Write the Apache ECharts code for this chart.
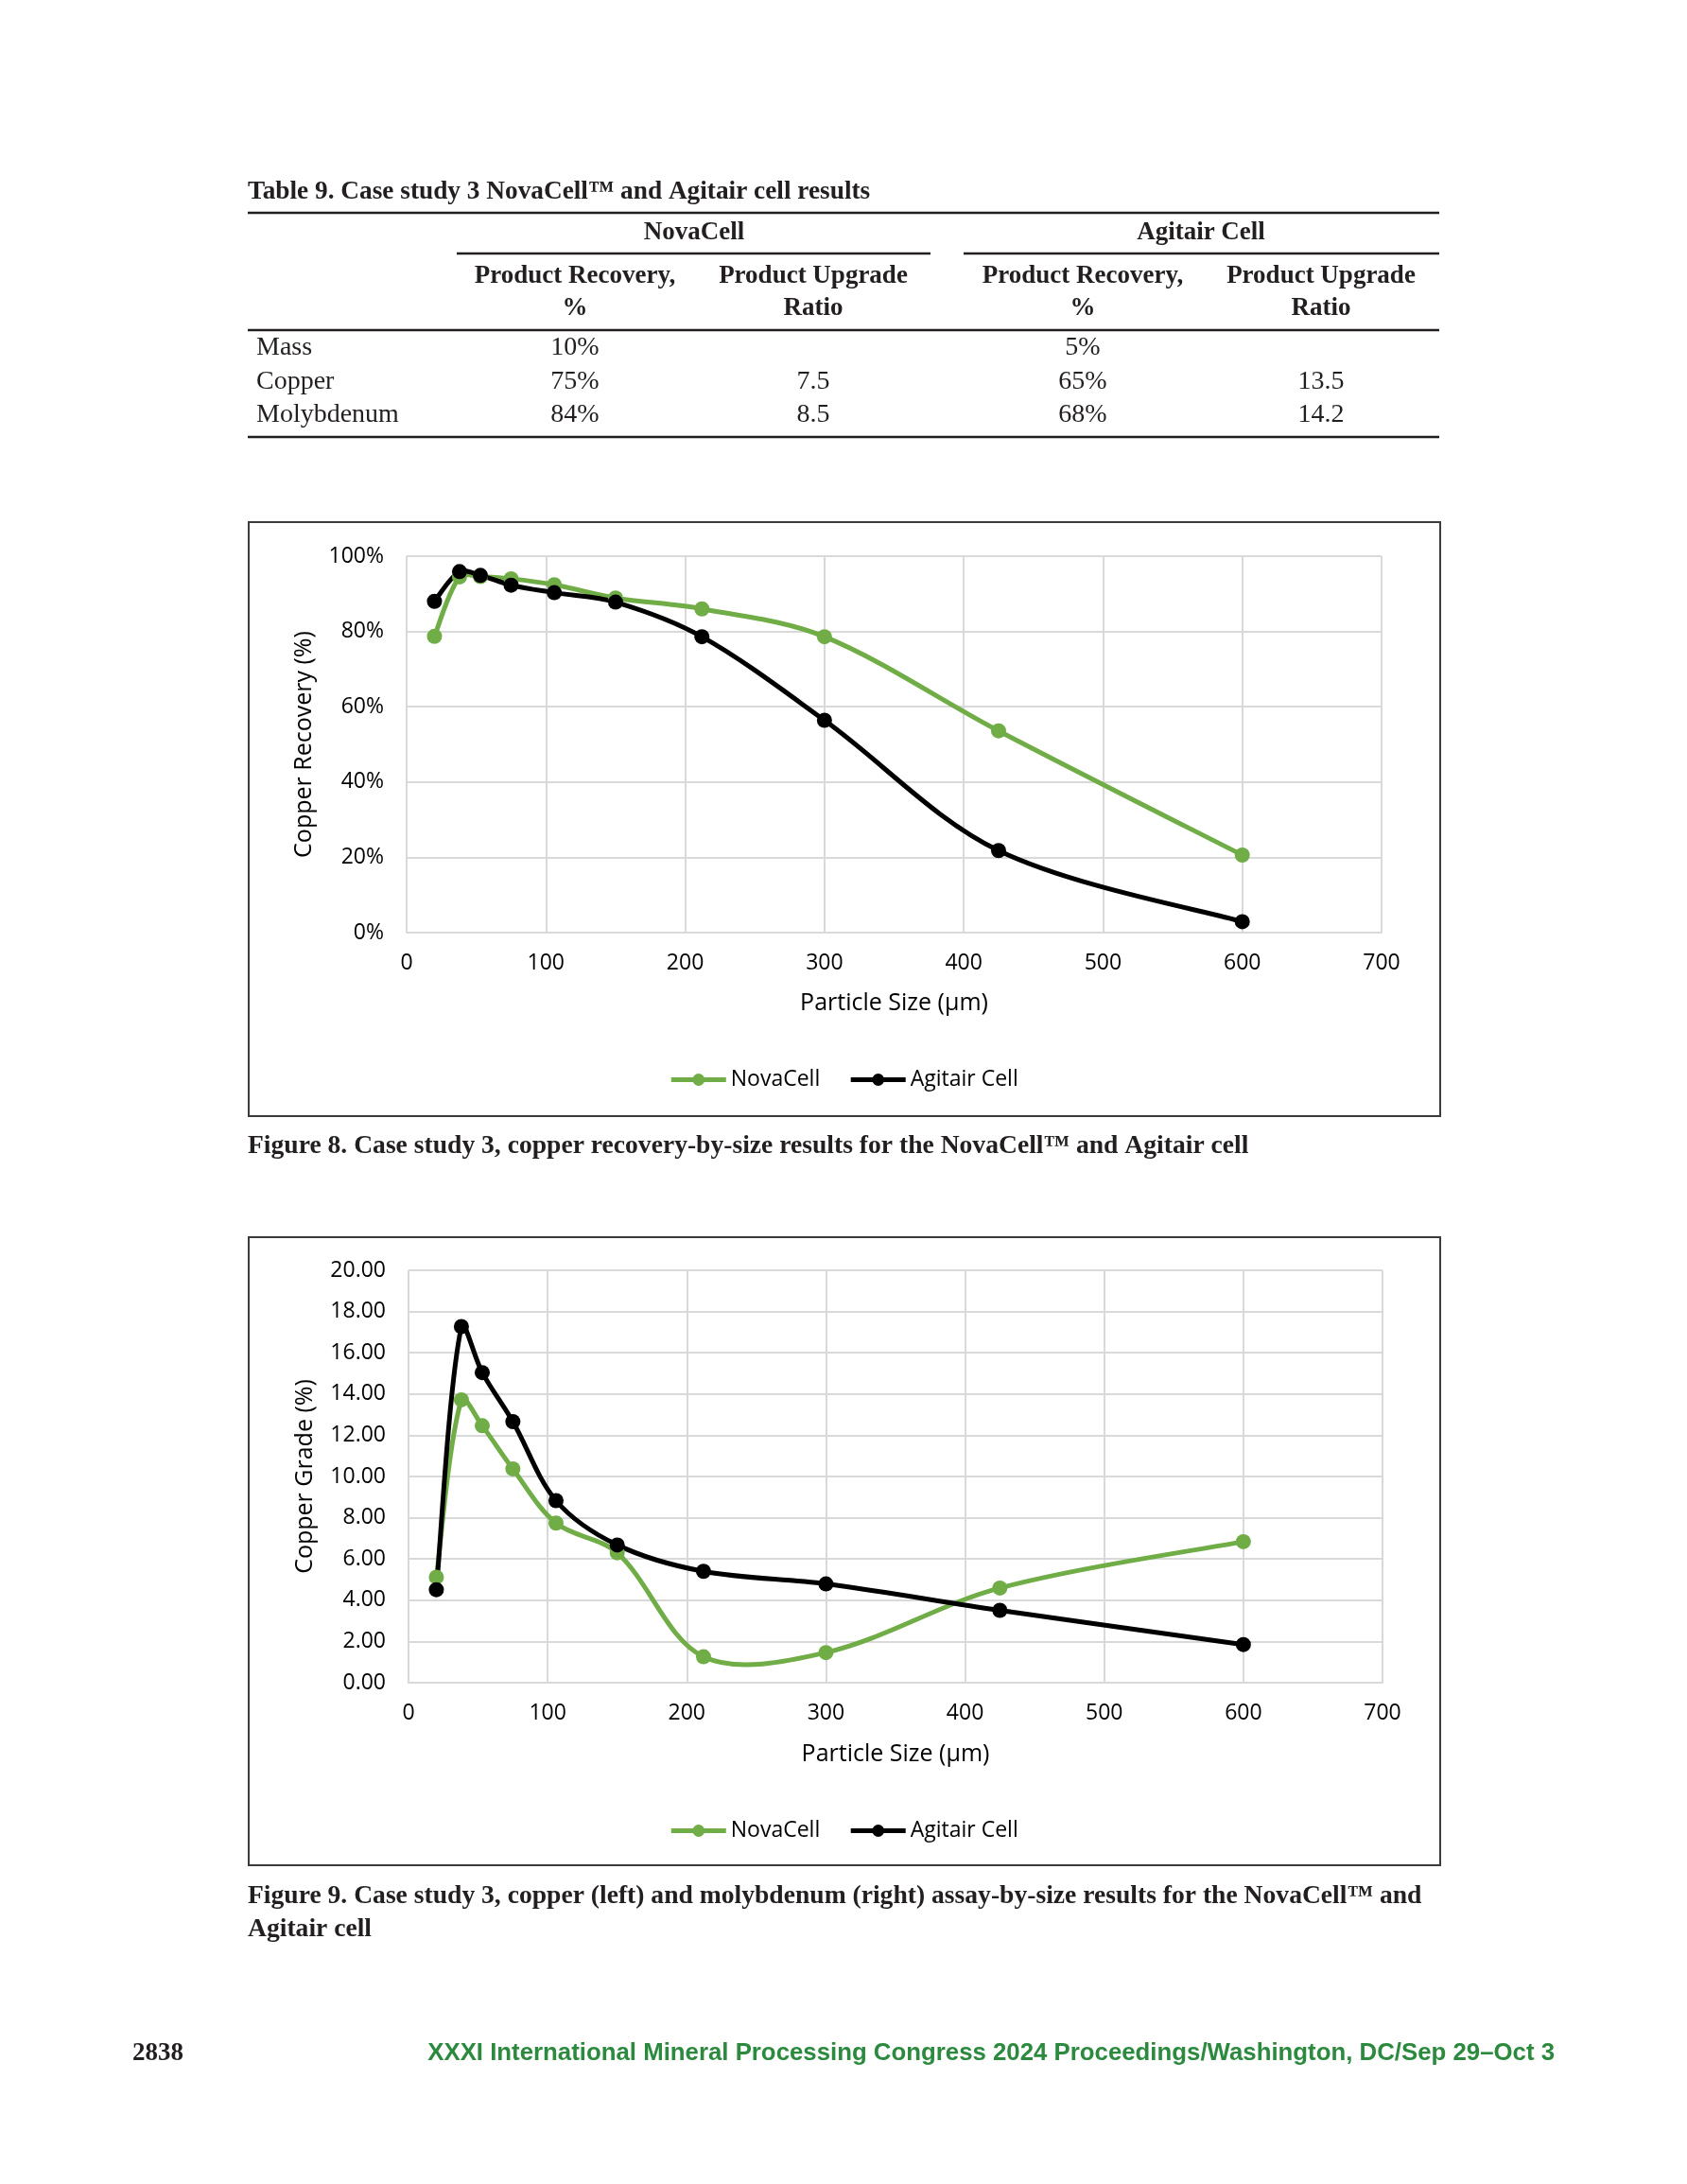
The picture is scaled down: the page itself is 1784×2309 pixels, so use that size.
<!DOCTYPE html>
<html><head><meta charset="utf-8">
<script src="https://cdn.jsdelivr.net/npm/echarts@6/dist/echarts.min.js"></script>
<style>html,body{margin:0;padding:0;background:#fff}#c{width:1784px;height:2309px}</style>
</head><body><div id="c"></div>
<script>
// ---- data ----
const particleSize = [20, 38, 53, 75, 106, 150, 212, 300, 425, 600];
const recoveryNovaCell = [78.7, 94.5, 94.6, 94.0, 92.4, 88.9, 86.0, 78.6, 53.6, 20.6];
const recoveryAgitair  = [88.0, 95.9, 94.9, 92.3, 90.3, 87.8, 78.6, 56.4, 21.8, 2.9];
const gradeNovaCell = [5.12, 13.72, 12.46, 10.37, 7.74, 6.30, 1.26, 1.46, 4.59, 6.84];
const gradeAgitair  = [4.51, 17.27, 15.04, 12.66, 8.83, 6.68, 5.40, 4.79, 3.51, 1.85];
const seriesNames = ['NovaCell', 'Agitair Cell'];
const tableRows = ['Mass', 'Copper', 'Molybdenum'];
const tableNovaRecovery = ['10%', '75%', '84%'];
const tableNovaUpgrade = ['', '7.5', '8.5'];
const tableAgitRecovery = ['5%', '65%', '68%'];
const tableAgitUpgrade = ['', '13.5', '14.2'];

const GREEN = '#70ad47', BLACK = '#000000';
const SANS = "'Open Sans', sans-serif";
const SERIF = "'Liberation Serif', 'DejaVu Serif', serif";
const INK = '#231f20';
const LW = 5, SYM = 16;

const pairs = (xs, ys) => xs.map((x, i) => [x, ys[i]]);

function txt(x, y, text, font, align, color) {
  return { type: 'text', x: x, y: y, silent: true,
    style: { text: text, font: font, fill: color || INK, align: align || 'left', verticalAlign: 'middle' } };
}
function hline(x1, x2, y, w) {
  return { type: 'line', silent: true, shape: { x1: x1, y1: y, x2: x2, y2: y }, style: { stroke: INK, lineWidth: w || 2 } };
}

const BOLD = 'bold 27px ' + SERIF, REG = '28px ' + SERIF;
const graphics = [];
// table
graphics.push(txt(262, 203, 'Table 9. Case study 3 NovaCell™ and Agitair cell results', 'bold 27.3px ' + SERIF));
graphics.push(hline(262, 1522, 225, 2.5));
graphics.push(txt(734, 246, 'NovaCell', BOLD, 'center'));
graphics.push(txt(1270, 246, 'Agitair Cell', BOLD, 'center'));
graphics.push(hline(483, 984, 268, 2.5));
graphics.push(hline(1019, 1522, 268, 2.5));
const colX = [608, 860, 1145, 1397];
const hdr1 = ['Product Recovery,', 'Product Upgrade', 'Product Recovery,', 'Product Upgrade'];
const hdr2 = ['%', 'Ratio', '%', 'Ratio'];
colX.forEach((cx, i) => {
  graphics.push(txt(cx, 292, hdr1[i], BOLD, 'center'));
  graphics.push(txt(cx, 326, hdr2[i], BOLD, 'center'));
});
graphics.push(hline(262, 1522, 349, 2.5));
const rowY = [368, 404, 439];
const cols = [tableNovaRecovery, tableNovaUpgrade, tableAgitRecovery, tableAgitUpgrade];
tableRows.forEach((r, i) => {
  graphics.push(txt(271, rowY[i], r, REG));
  cols.forEach((c, j) => { if (c[i]) graphics.push(txt(colX[j], rowY[i], c[i], REG, 'center')); });
});
graphics.push(hline(262, 1522, 462, 2.5));
// chart frames
graphics.push({ type: 'rect', silent: true, z: -1, shape: { x: 263, y: 552, width: 1260, height: 628 }, style: { fill: 'none', stroke: '#3b3b3b', lineWidth: 2 } });
graphics.push({ type: 'rect', silent: true, z: -1, shape: { x: 263, y: 1308, width: 1260, height: 664 }, style: { fill: 'none', stroke: '#3b3b3b', lineWidth: 2 } });
// captions
const CAP = 'bold 27.6px ' + SERIF;
graphics.push(txt(262, 1212, 'Figure 8. Case study 3, copper recovery-by-size results for the NovaCell™ and Agitair cell', CAP));
graphics.push(txt(262, 2005, 'Figure 9. Case study 3, copper (left) and molybdenum (right) assay-by-size results for the NovaCell™ and', CAP));
graphics.push(txt(262, 2040, 'Agitair cell', CAP));
// footer
graphics.push(txt(140, 2171, '2838', 'bold 27px ' + SERIF));
graphics.push(txt(1644, 2171, 'XXXI International Mineral Processing Congress 2024 Proceedings/Washington, DC/Sep 29–Oct 3', "bold 25.8px 'Liberation Sans', sans-serif", 'right', '#2b8a3e'));

const gridLine = { show: true, lineStyle: { color: '#d9d9d9', width: 2 } };
function xAx(gi, gap) {
  return { type: 'value', gridIndex: gi, min: 0, max: 700, interval: 100,
    name: 'Particle Size (μm)', nameLocation: 'middle', nameGap: gap,
    nameTextStyle: { fontFamily: SANS, fontSize: 25, color: '#000' },
    axisLine: { show: true, lineStyle: { color: '#d9d9d9', width: 2 } }, axisTick: { show: false },
    axisLabel: { fontFamily: SANS, fontSize: 23, color: '#000', margin: 21 },
    splitLine: gridLine };
}
// markers (and legend entries), drawn by the library's line series
function markerSeries(name, xi, data, color) {
  return { name: name, type: 'line', xAxisIndex: xi, yAxisIndex: xi, data: data, z: 3,
    symbol: 'circle', symbolSize: SYM, showSymbol: true,
    lineStyle: { width: LW, color: color, opacity: 0 }, itemStyle: { color: color }, emphasis: { disabled: true } };
}
// Excel-style smoothed line (cardinal spline with segment-length weighting) through the data points, positioned by api.coord
function curveSeries(xi, data, color) {
  return { type: 'custom', xAxisIndex: xi, yAxisIndex: xi, data: data, z: 2, silent: true,
    renderItem: function (params, api) {
      if (params.dataIndex !== 0) return null;
      const p = data.map(d => api.coord(d));
      const n = p.length;
      const dist = (a, b) => Math.hypot(b[0] - a[0], b[1] - a[1]);
      let d = 'M' + p[0][0] + ' ' + p[0][1];
      for (let i = 0; i < n - 1; i++) {
        const p0 = p[Math.max(i - 1, 0)], p1 = p[i], p2 = p[i + 1], p3 = p[Math.min(i + 2, n - 1)];
        const d01 = dist(p0, p1), d12 = dist(p1, p2), d23 = dist(p2, p3);
        const k1 = i === 0 ? 1 / 6 : (d12 / (d01 + d12)) / 3;
        const k2 = i === n - 2 ? 1 / 6 : (d12 / (d12 + d23)) / 3;
        const c1x = p1[0] + (p2[0] - p0[0]) * k1, c1y = p1[1] + (p2[1] - p0[1]) * k1;
        const c2x = p2[0] - (p3[0] - p1[0]) * k2, c2y = p2[1] - (p3[1] - p1[1]) * k2;
        d += ' C' + c1x + ' ' + c1y + ' ' + c2x + ' ' + c2y + ' ' + p2[0] + ' ' + p2[1];
      }
      return { type: 'path', shape: { pathData: d }, style: { fill: 'none', stroke: color, lineWidth: LW, lineJoin: 'round', lineCap: 'round' } };
    } };
}
const legendBase = { left: 'center', data: seriesNames, itemWidth: 58, itemHeight: SYM, itemGap: 30,
  lineStyle: { width: LW, opacity: 1 },
  textStyle: { fontFamily: SANS, fontSize: 23, color: '#000' }, selectedMode: false };

const yName = { fontFamily: SANS, fontSize: 25, color: '#000' };
const chart = echarts.init(document.getElementById('c'));
chart.setOption({
  animation: false,
  backgroundColor: '#fff',
  grid: [
    { left: 430, top: 588, width: 1031, height: 398 },
    { left: 432, top: 1343, width: 1030, height: 436 }
  ],
  xAxis: [xAx(0, 62), xAx(1, 63)],
  yAxis: [
    { type: 'value', gridIndex: 0, min: 0, max: 100, interval: 20,
      name: 'Copper Recovery (%)', nameLocation: 'middle', nameGap: 96, nameTextStyle: yName,
      axisLine: { show: false }, axisTick: { show: false },
      axisLabel: { fontFamily: SANS, fontSize: 23, color: '#000', margin: 24, formatter: '{value}%' },
      splitLine: gridLine },
    { type: 'value', gridIndex: 1, min: 0, max: 20, interval: 2,
      name: 'Copper Grade (%)', nameLocation: 'middle', nameGap: 97, nameTextStyle: yName,
      axisLine: { show: false }, axisTick: { show: false },
      axisLabel: { fontFamily: SANS, fontSize: 23, color: '#000', margin: 24, formatter: v => v.toFixed(2) },
      splitLine: gridLine }
  ],
  legend: [Object.assign({ top: 1125 }, legendBase), Object.assign({ top: 1919 }, legendBase)],
  series: [
    curveSeries(0, pairs(particleSize, recoveryNovaCell), GREEN),
    markerSeries(seriesNames[0], 0, pairs(particleSize, recoveryNovaCell), GREEN),
    curveSeries(0, pairs(particleSize, recoveryAgitair), BLACK),
    markerSeries(seriesNames[1], 0, pairs(particleSize, recoveryAgitair), BLACK),
    curveSeries(1, pairs(particleSize, gradeNovaCell), GREEN),
    markerSeries(seriesNames[0], 1, pairs(particleSize, gradeNovaCell), GREEN),
    curveSeries(1, pairs(particleSize, gradeAgitair), BLACK),
    markerSeries(seriesNames[1], 1, pairs(particleSize, gradeAgitair), BLACK)
  ],
  graphic: graphics
});
</script></body></html>
